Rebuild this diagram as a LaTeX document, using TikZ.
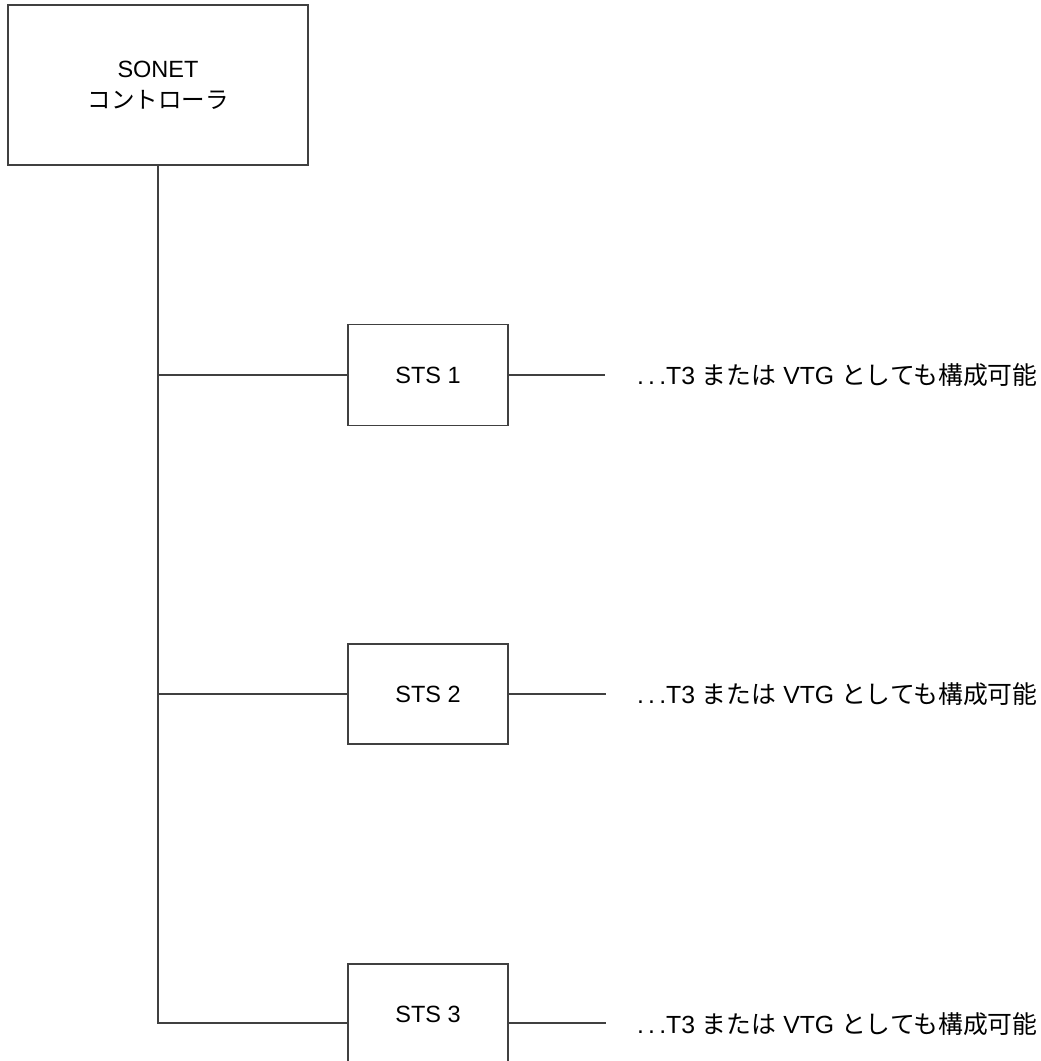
\documentclass[tikz,border=0pt]{standalone}
\usepackage{fontspec}
\setmainfont{Liberation Sans}
\newfontfamily\jp{Noto Sans CJK JP}
\tikzset{
  box/.style={draw=black!75, line width=1.2pt, fill=white, inner sep=0pt, align=center,
    font=\fontsize{23.5}{31}\selectfont},
  wire/.style={draw=black!75, line width=1.2pt},
  note/.style={inner sep=0pt, anchor=base west, font=\fontsize{24.8}{28}\selectfont}
}
\begin{document}
\begin{tikzpicture}[x=1pt,y=-1pt]
\useasboundingbox (0,0) rectangle (1041,1061);
\clip (0,0) rectangle (1041,1061);
\node[box, minimum width=300pt, minimum height=160pt] (ctrl) at (158,85) {SONET\\{\jp コントローラ}};
\node[box, minimum width=160pt, minimum height=101pt] (sts1) at (428,375) {STS 1};
\node[box, minimum width=160pt, minimum height=100pt] (sts2) at (428,694) {STS 2};
\node[box, minimum width=160pt, minimum height=100pt] (sts3) at (428,1014) {STS 3};
\coordinate (j1) at (158,375);
\coordinate (j2) at (158,694);
\coordinate (j3) at (158,1023);
\coordinate (e1) at (605,375);
\coordinate (e2) at (606,694);
\coordinate (e3) at (606,1023);
\draw[wire] (ctrl.south) -- (j3) -- (j3 -| sts3.west);
\draw[wire] (j1) -- (sts1.west);
\draw[wire] (j2) -- (sts2.west);
\draw[wire] (sts1.east) -- (e1);
\draw[wire] (sts2.east) -- (e2);
\draw[wire] (sts3.east |- e3) -- (e3);
\node[note] (n1) at (637,384) {.\,.\,.T3 {\jp または} VTG {\jp としても構成可能}};
\node[note] (n2) at (637,703) {.\,.\,.T3 {\jp または} VTG {\jp としても構成可能}};
\node[note] (n3) at (637,1033) {.\,.\,.T3 {\jp または} VTG {\jp としても構成可能}};
\end{tikzpicture}
\end{document}
